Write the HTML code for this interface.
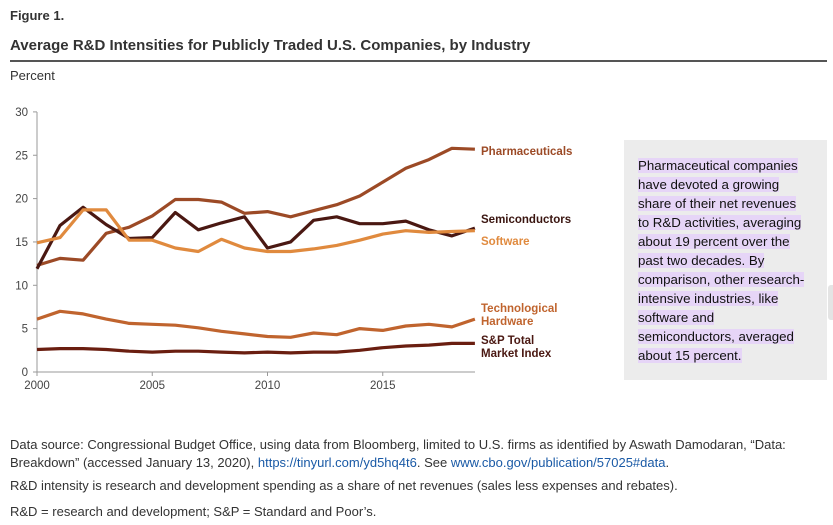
<!DOCTYPE html>
<html><head><meta charset="utf-8"><style>
body{margin:0;width:833px;height:525px;background:#fff;font-family:"Liberation Sans",sans-serif;position:relative;overflow:hidden;color:#222}
.a{position:absolute;white-space:nowrap}
.box{position:absolute;left:624px;top:140px;width:203px;height:240px;background:#ececec}
.box div{position:absolute;left:14px;font-size:13.3px;line-height:19px;color:#111}
.box span{background:#e6d5f7}
.f{font-size:13px;color:#333}
.f a{color:#1a5aa6;text-decoration:none}
.lab{font-weight:bold;font-size:11.5px;position:absolute;white-space:nowrap;line-height:13px}
</style></head><body>
<div class="a" style="left:10px;top:8px;font-weight:bold;font-size:13px;color:#333">Figure 1.</div>
<div class="a" style="left:10px;top:37px;font-weight:bold;font-size:15px;color:#333">Average R&amp;D Intensities for Publicly Traded U.S. Companies, by Industry</div>
<div class="a" style="left:10px;top:60px;width:817px;height:2px;background:#555"></div>
<div class="a" style="left:10px;top:68px;font-size:13px;color:#333">Percent</div>
<div class="a" style="left:828px;top:285px;width:8px;height:35px;background:#e4e4e4;border-radius:3px"></div>
<svg id="s" class="a" style="left:0;top:0" width="833" height="400"></svg>
<div class="lab" style="left:481px;top:146px;color:#9c4a26">Pharmaceuticals</div>
<div class="lab" style="left:481px;top:214px;color:#3a1510">Semiconductors</div>
<div class="lab" style="left:481px;top:236px;color:#e08a3e">Software</div>
<div class="lab" style="left:481px;top:303px;color:#c0642e">Technological<br>Hardware</div>
<div class="lab" style="left:481px;top:335px;color:#4a1812">S&amp;P Total<br>Market Index</div>
<div class="box"><div style="top:16px">
<span>Pharmaceutical companies</span><br><span>have devoted a growing</span><br><span>share of their net revenues</span><br><span>to R&amp;D activities, averaging</span><br><span>about 19 percent over the</span><br><span>past two decades. By</span><br><span>comparison, other research-</span><br><span>intensive industries, like</span><br><span>software and</span><br><span>semiconductors, averaged</span><br><span>about 15 percent.</span></div></div>
<div class="a f" style="left:10px;top:436px;line-height:18px">Data source: Congressional Budget Office, using data from Bloomberg, limited to U.S. firms as identified by Aswath Damodaran, “Data:<br>Breakdown” (accessed January 13, 2020), <a>https://tinyurl.com/yd5hq4t6</a>. See <a>www.cbo.gov/publication/57025#data</a>.</div>
<div class="a f" style="left:10px;top:478px">R&amp;D intensity is research and development spending as a share of net revenues (sales less expenses and rebates).</div>
<div class="a f" style="left:10px;top:504px">R&amp;D = research and development; S&amp;P = Standard and Poor’s.</div>
<script>
var s=document.getElementById('s'),h='';
function X(i){return 37+i*23.05}function Y(v){return 372-v*8.67}
h+='<line x1="37" y1="112" x2="37" y2="372" stroke="#999"/><line x1="37" y1="372" x2="475" y2="372" stroke="#999"/>';
for(var v=0;v<=30;v+=5){h+='<line x1="33" x2="37" y1="'+Y(v)+'" y2="'+Y(v)+'" stroke="#999"/><text x="28" y="'+(Y(v)+4)+'" text-anchor="end" font-size="11.5" fill="#444" font-family="Liberation Sans">'+v+'</text>';}
for(var y=0;y<4;y++){var x=X(y*5);h+='<line x1="'+x+'" x2="'+x+'" y1="372" y2="376" stroke="#999"/><text x="'+x+'" y="389" text-anchor="middle" font-size="11.5" fill="#444" font-family="Liberation Sans">'+(2000+y*5)+'</text>';}
var D=[
["#6a1e10",[2.6,2.7,2.7,2.6,2.4,2.3,2.4,2.4,2.3,2.2,2.3,2.2,2.3,2.3,2.5,2.8,3,3.1,3.3,3.3]],
["#c0642e",[6.1,7,6.7,6.1,5.6,5.5,5.4,5.1,4.7,4.4,4.1,4.0,4.5,4.3,5,4.8,5.3,5.5,5.2,6.1]],
["#9c4a26",[12.3,13.1,12.9,16,16.7,18,19.9,19.9,19.6,18.3,18.5,17.9,18.6,19.3,20.3,21.9,23.5,24.5,25.8,25.7]],
["#4a1812",[11.9,16.9,19,17,15.4,15.5,18.4,16.4,17.2,17.9,14.3,15,17.5,17.9,17.1,17.1,17.4,16.4,15.7,16.6]],
["#e08a3e",[14.9,15.5,18.7,18.7,15.2,15.2,14.3,13.9,15.3,14.3,13.9,13.9,14.2,14.6,15.2,15.9,16.3,16.1,16.2,16.3]]];
D.forEach(function(d){var p=d[1].map(function(v,i){return X(i).toFixed(1)+','+Y(v).toFixed(1)}).join(' ');h+='<polyline points="'+p+'" fill="none" stroke="'+d[0]+'" stroke-width="3.2" stroke-linejoin="round"/>';});
s.innerHTML=h;
</script>
</body></html>
